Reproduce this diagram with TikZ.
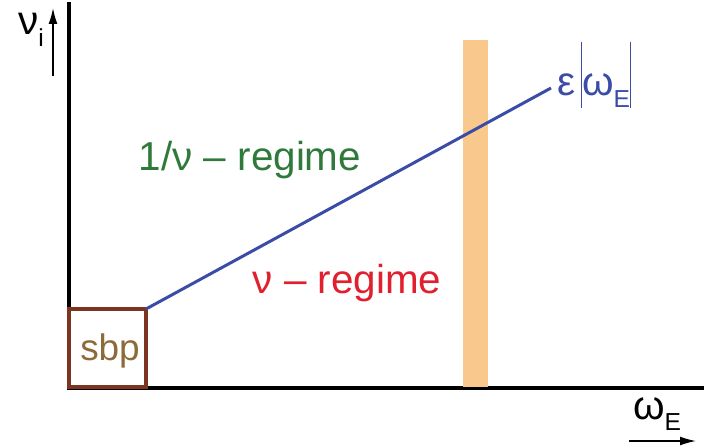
\documentclass[tikz,border=0pt]{standalone}
\usepackage{fontspec}
\setmainfont{Liberation Sans}
\usepackage{xcolor}
\definecolor{lineblue}{HTML}{3A4CA6}
\definecolor{sbpbrown}{HTML}{7B3520}
\definecolor{sbptext}{HTML}{8C6A3A}
\definecolor{bandorange}{HTML}{F9C88C}
\definecolor{regimegreen}{HTML}{2F7A3A}
\definecolor{regimered}{HTML}{E0202E}
\usetikzlibrary{arrows.meta, positioning, calc}
\newcommand\lowsub[1]{\raisebox{-0.55ex}{\fontsize{14}{14}\selectfont #1}}
\newcommand\tallbar{\raisebox{-0.6ex}{\rule{0.8pt}{3.1ex}}}

\begin{document}
\begin{tikzpicture}[
    x=0.02cm, y=-0.02cm,
    every node/.style={font=\fontsize{23}{26}\selectfont, inner sep=0pt},
    axis/.style={line width=2.2pt},
    hint/.style={line width=0.8pt, -{Latex[length=9pt, width=5pt]}},
    regime/.style={anchor=base},
]
% --- Frame (pixel coordinates of the reference) ---
\useasboundingbox (0,0) rectangle (709,447);

% --- Axes ---
\coordinate (orig) at (69,388);
\coordinate (ytop) at (69,2);
\coordinate (xend) at (704,388);
\draw[axis] (ytop) -- (orig) -- (xend);

% --- Resonance band ---
\fill[bandorange] (463,40) rectangle (488,387);

% --- Small-banana-plateau box ---
\coordinate (sbpNE) at (146,309);
\draw[sbpbrown, line width=1.8pt] (69,387) rectangle (sbpNE);
\node[text=sbptext, font=\fontsize{21}{24}\selectfont] (sbp) at (110,351) {sbp};

% --- Boundary line and its label ---
\node[text=lineblue, anchor=west] (eps) at (557,75) {ε\kern3pt\tallbar ω\lowsub{E}\tallbar};
\coordinate (lineEnd) at (551,88);
\draw[lineblue, line width=1.7pt] (sbpNE) -- (lineEnd);

% --- Regime labels ---
\node[text=regimegreen, regime] (oneovernu) at (250,170) {1/ν -- regime};
\node[text=regimered, regime] (nu) at (347,293) {ν -- regime};

% --- Axis labels ---
\coordinate (nuTail) at (53,76);
\coordinate (nuHead) at (53,8);
\draw[hint] (nuTail) -- (nuHead);
\node (nuLbl) at (31,30) {ν\lowsub{i}};

\coordinate (omTail) at (629,441);
\coordinate (omHead) at (696,441);
\draw[hint] (omTail) -- (omHead);
\node (omLbl) at (657,414) {ω\lowsub{E}};
\end{tikzpicture}
\end{document}
